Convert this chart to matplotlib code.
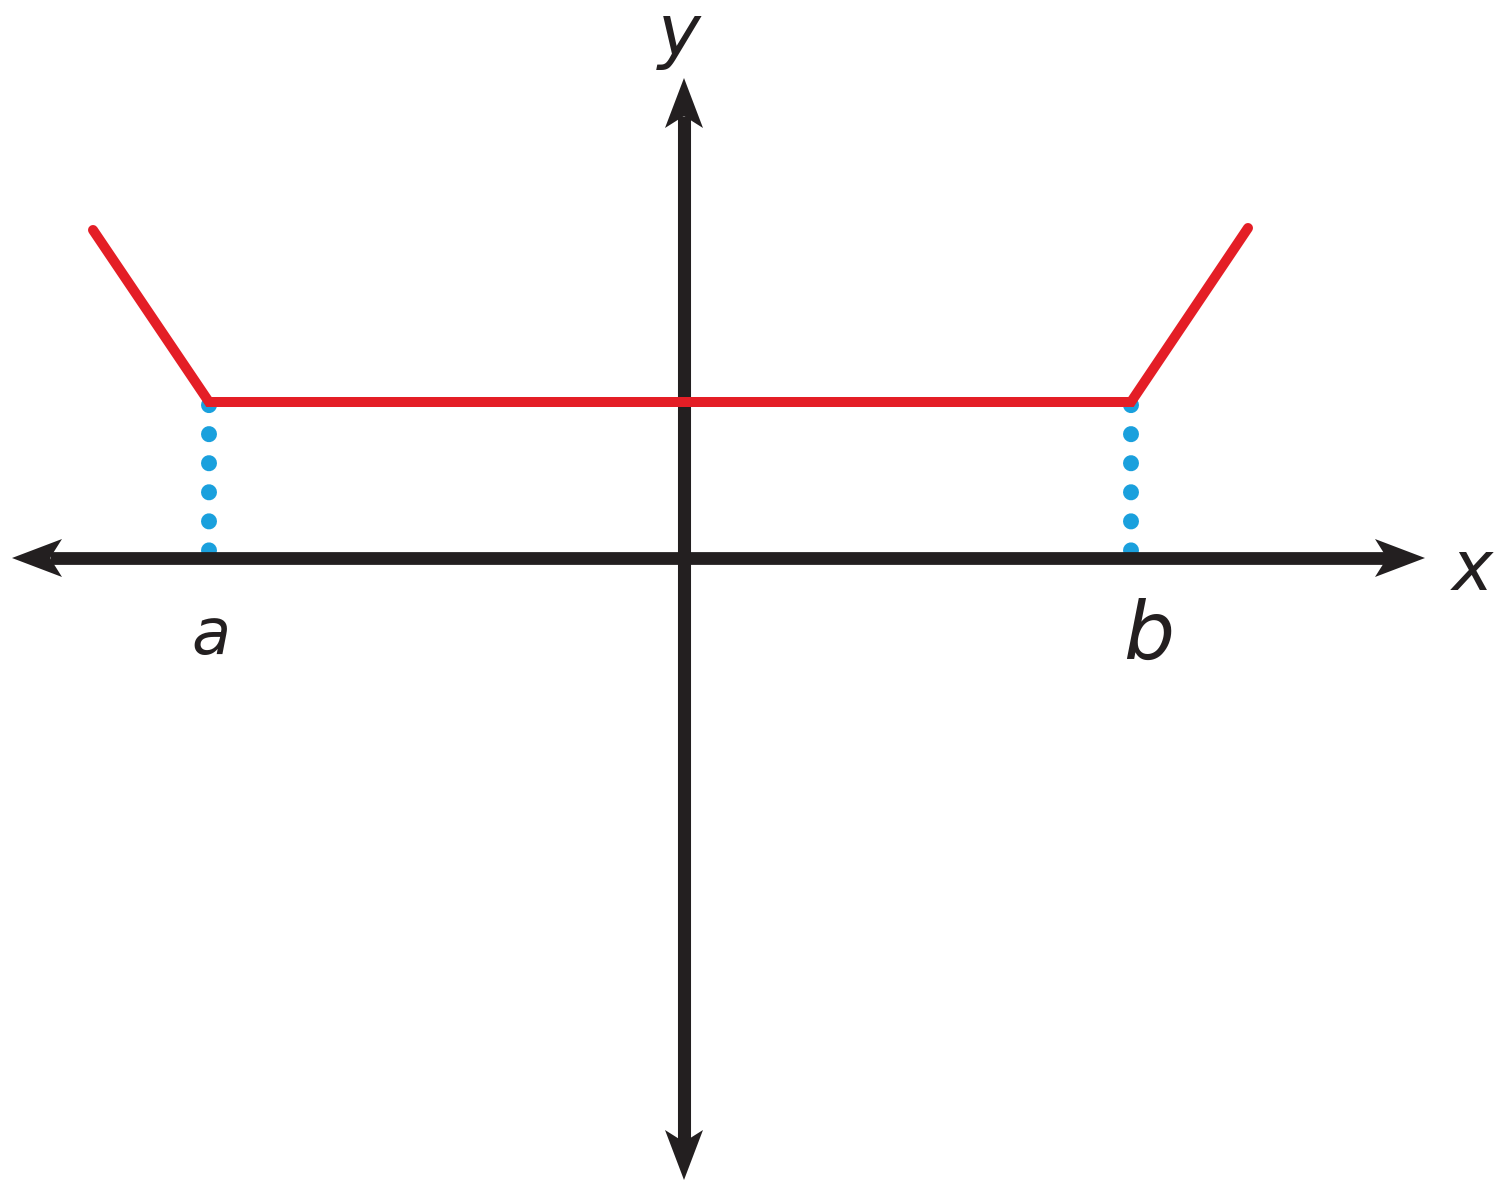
import numpy as np
import matplotlib.pyplot as plt

# piecewise graph: f is constant between a and b, rises outside
a_x = -4.75
b_x = 4.47
level = 1.56
red_x = [-5.91, a_x, b_x, 5.64]
red_y = [3.28, level, level, 3.30]

# axis extents (arrow tips)
x_axis = (-6.72, 7.41)
y_axis = (-6.22, 4.80)

labels = ['a', 'b', 'x', 'y']
label_xy = [(a_x + 0.02, -0.78), (b_x + 0.18, -0.79), (7.88, -0.12), (-0.05, 5.22)]

RED = '#E41E26'
BLUE = '#1AA0DD'
BLACK = '#231F20'

fig = plt.figure(figsize=(14.97, 11.83), dpi=100)
ax = fig.add_axes([0, 0, 1, 1])
ax.set_xlim(-6.84, 8.13)
ax.set_ylim(-6.25, 5.58)
ax.axis('off')


def arrowhead(tip, d, length=0.50, half=0.19, notch=0.38):
    tip = np.asarray(tip, float)
    d = np.asarray(d, float)
    n = np.array([-d[1], d[0]])
    pts = [tip,
           tip - d * length + n * half,
           tip - d * notch,
           tip - d * length - n * half]
    pts = np.array(pts)
    ax.fill(pts[:, 0], pts[:, 1], color=BLACK, lw=0, zorder=2)
    return tip - d * notch


# axes with arrows
l = arrowhead((x_axis[0], 0), (-1, 0))
r = arrowhead((x_axis[1], 0), (1, 0))
ax.plot([l[0], r[0]], [0, 0], color=BLACK, lw=9.2, solid_capstyle='butt', zorder=2)
bt = arrowhead((0, y_axis[0]), (0, -1))
tp = arrowhead((0, y_axis[1]), (0, 1))
ax.plot([0, 0], [bt[1], tp[1]], color=BLACK, lw=9.4, solid_capstyle='butt', zorder=2)

# dotted guides from the corners down to the x axis
for xv in (a_x, b_x):
    ax.plot([xv, xv], [level - 0.03, 0], color=BLUE, lw=11.5,
            linestyle=(0, (0.01, 1.81)), dash_capstyle='round', zorder=1)

# the graph
ax.plot(red_x, red_y, color=RED, lw=7.2, solid_capstyle='round',
        solid_joinstyle='miter', zorder=3)

sizes = [46, 58, 50, 52]
for t, (tx, ty), fs in zip(labels, label_xy, sizes):
    ax.text(tx, ty, t, fontsize=fs, style='italic', color=BLACK,
            ha='center', va='center')

fig.savefig('out.png', dpi=100)
